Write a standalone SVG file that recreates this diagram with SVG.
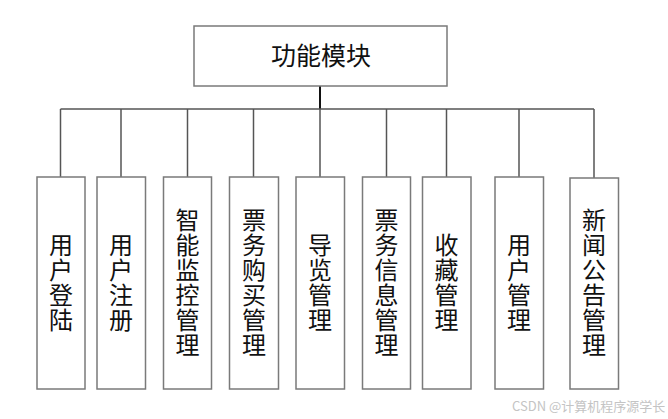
<svg xmlns="http://www.w3.org/2000/svg" width="668" height="419" viewBox="0 0 668 419">
  <style>
    .box { fill: #ffffff; stroke: #7a7a7a; stroke-width: 1.5; }
    .wire { fill: none; stroke: #555555; stroke-width: 1.5; }
    .stem { fill: none; stroke: #111111; stroke-width: 2; }
    .label { font-family: "Noto Sans CJK SC", "Liberation Sans", sans-serif; font-size: 24px; fill: #111111; text-anchor: middle; }
    .title { font-size: 25px; }
    .vert { writing-mode: vertical-rl; letter-spacing: 1px; }
    .mark { font-family: "Noto Sans CJK SC", "Liberation Sans", sans-serif; font-size: 13px; fill: #c4c4c4; }
  </style>
  <rect width="668" height="419" fill="#ffffff"/>

  <!-- connectors -->
  <g id="connectors">
    <line class="stem" x1="320" y1="86" x2="320" y2="109"/>
    <line class="wire" x1="60.5" y1="109" x2="594" y2="109"/>
    <line class="wire" x1="60.5" y1="109" x2="60.5" y2="177"/>
    <line class="wire" x1="121" y1="109" x2="121" y2="177"/>
    <line class="wire" x1="187.5" y1="109" x2="187.5" y2="177"/>
    <line class="wire" x1="253.5" y1="109" x2="253.5" y2="177"/>
    <line class="wire" x1="320" y1="109" x2="320" y2="177"/>
    <line class="wire" x1="386.5" y1="109" x2="386.5" y2="177"/>
    <line class="wire" x1="446.5" y1="109" x2="446.5" y2="177"/>
    <line class="wire" x1="519" y1="109" x2="519" y2="177"/>
    <line class="wire" x1="594" y1="109" x2="594" y2="178"/>
  </g>

  <!-- root -->
  <g id="root">
    <rect class="box" x="194" y="26" width="253" height="60"/>
    <text class="label title" x="321" y="65">功能模块</text>
  </g>

  <!-- child modules: labels set in vertical writing mode -->
  <g id="user-login">
    <rect class="box" x="37" y="177" width="48" height="212"/>
    <text class="label vert" x="61" y="283">用户登陆</text>
  </g>
  <g id="user-register">
    <rect class="box" x="97" y="177" width="48.5" height="212"/>
    <text class="label vert" x="121" y="283">用户注册</text>
  </g>
  <g id="monitor">
    <rect class="box" x="163.5" y="177" width="48" height="212"/>
    <text class="label vert" x="187.5" y="283">智能监控管理</text>
  </g>
  <g id="ticket-purchase">
    <rect class="box" x="229.5" y="177" width="49" height="212"/>
    <text class="label vert" x="254" y="283">票务购买管理</text>
  </g>
  <g id="guide">
    <rect class="box" x="296" y="177" width="48.5" height="212"/>
    <text class="label vert" x="320" y="283">导览管理</text>
  </g>
  <g id="ticket-info">
    <rect class="box" x="362.5" y="177" width="48" height="212"/>
    <text class="label vert" x="386.5" y="283">票务信息管理</text>
  </g>
  <g id="favorites">
    <rect class="box" x="422.5" y="177" width="48.5" height="212"/>
    <text class="label vert" x="446.5" y="283">收藏管理</text>
  </g>
  <g id="user-admin">
    <rect class="box" x="495" y="177" width="48.5" height="212"/>
    <text class="label vert" x="519" y="283">用户管理</text>
  </g>
  <g id="news">
    <rect class="box" x="570" y="178" width="48.5" height="211"/>
    <text class="label vert" x="594" y="283">新闻公告管理</text>
  </g>

  <text class="mark" x="512" y="411">CSDN @计算机程序源学长</text>
</svg>
